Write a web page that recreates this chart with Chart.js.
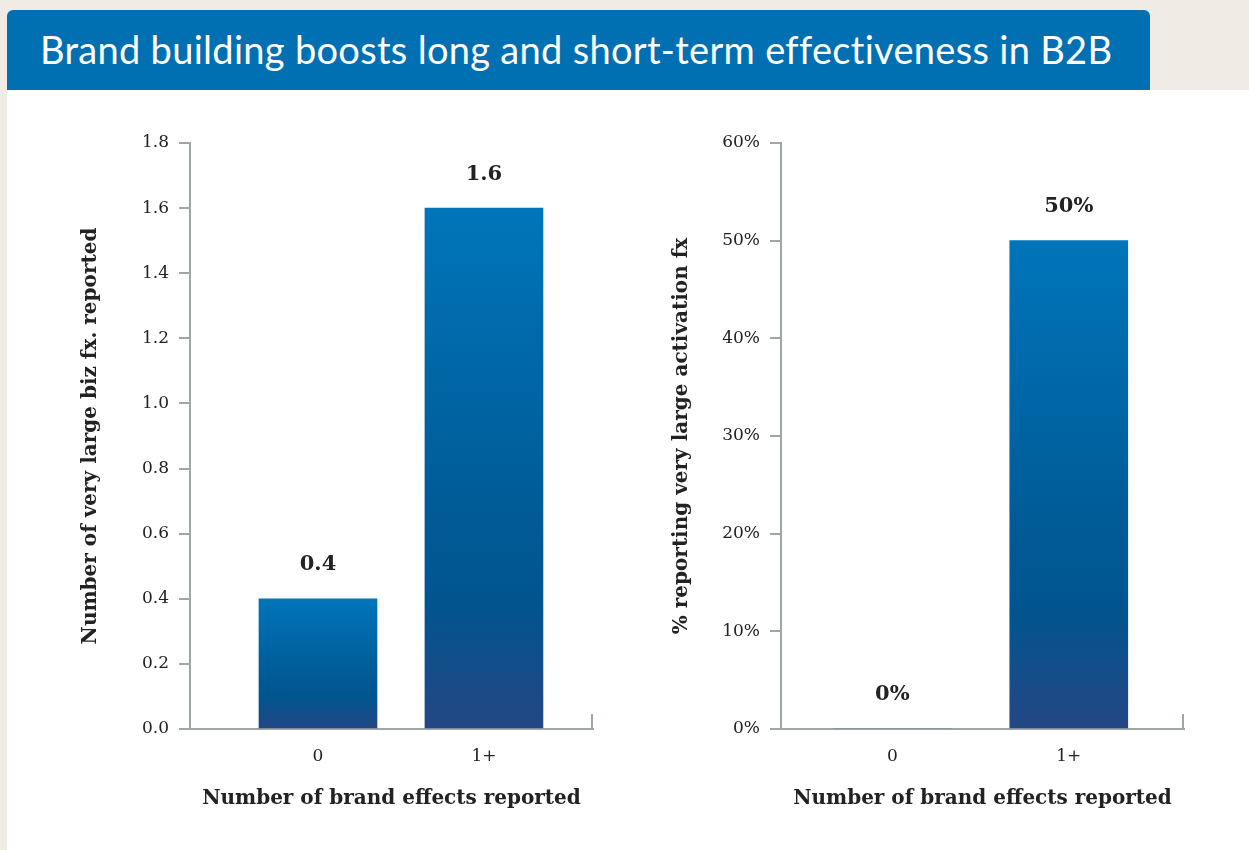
<!DOCTYPE html>
<html>
<head>
<meta charset="utf-8">
<script src="https://cdn.jsdelivr.net/npm/chart.js@4/dist/chart.umd.min.js"></script>
<style>
  html, body { margin: 0; padding: 0; }
  body { width: 1249px; height: 850px; background: #f0ebe5; position: relative; overflow: hidden; }
  #header {
    position: absolute; left: 7px; top: 10px; width: 1143px; height: 80px;
    background: #0070b3; border-radius: 6px 6px 0 0;
    color: #fff; font-family: Lato, "Open Sans", sans-serif; font-size: 38px; letter-spacing: 0.3px;
    line-height: 78px; padding-left: 33px; box-sizing: border-box; white-space: nowrap;
  }
  #panel { position: absolute; left: 7px; top: 90px; width: 1242px; height: 760px; background: #fff; }
  .box { position: absolute; top: 120px; width: 560px; height: 710px; }
  #left { left: 60px; }
  #right { left: 651px; }
</style>
</head>
<body>
<div id="panel"></div>
<div id="header">Brand building boosts long and short-term effectiveness in B2B</div>
<div class="box" id="left"><canvas id="chartLeft"></canvas></div>
<div class="box" id="right"><canvas id="chartRight"></canvas></div>

<script>
// data
var categories = ['0', '1+'];
var bizFx = [0.4, 1.6];
var activationFx = [0, 50];
var xTitle = 'Number of brand effects reported';
var leftYTitle = 'Number of very large biz fx. reported';
var rightYTitle = '% reporting very large activation fx';

var axisGrey = '#9ea6a6';
var textDark = '#222';

function barGradient(context) {
    var chart = context.chart;
    if (!chart.chartArea || context.parsed == null) return '#005b97';
    var y = chart.scales.y;
    var top = y.getPixelForValue(context.parsed.y);
    var bottom = y.getPixelForValue(0);
    if (bottom - top < 1) return '#5a6f8a';
    var g = chart.ctx.createLinearGradient(0, top, 0, bottom);
    g.addColorStop(0, '#0075ba');
    g.addColorStop(0.55, '#005c98');
    g.addColorStop(0.75, '#00558f');
    g.addColorStop(1, '#244684');
    return g;
}

// value labels above the bars + end cap of the x axis
function barLabels(values, fmt) {
    return {
        id: 'barLabels',
        afterDatasetsDraw: function (chart) {
            var ctx = chart.ctx;
            var meta = chart.getDatasetMeta(0);
            ctx.save();
            ctx.font = 'bold 21px "DejaVu Serif"';
            ctx.fillStyle = textDark;
            ctx.textAlign = 'center';
            ctx.textBaseline = 'middle';
            meta.data.forEach(function (bar, i) {
                ctx.fillText(fmt(values[i]), bar.x, bar.y - 34);
            });
            // small upright tick at the right end of the x axis
            var a = chart.chartArea;
            ctx.strokeStyle = axisGrey;
            ctx.lineWidth = 2;
            ctx.beginPath();
            ctx.moveTo(a.right - 1, a.bottom);
            ctx.lineTo(a.right - 1, a.bottom - 15);
            ctx.stroke();
            ctx.restore();
        }
    };
}

function makeChart(id, values, yMax, yStep, fmt, yTitle, xMin, xMax) {
    return new Chart(document.getElementById(id), {
        type: 'bar',
        data: {
            labels: categories,
            datasets: [{
                data: values.map(function (v, i) { return { x: i, y: v }; }),
                backgroundColor: barGradient,
                borderWidth: 0,
                barThickness: 118
            }]
        },
        plugins: [barLabels(values, fmt)],
        options: {
            responsive: true,
            maintainAspectRatio: false,
            animation: false,
            layout: { padding: { top: 23, right: 27, left: 0, bottom: 0 } },
            plugins: {
                legend: { display: false },
                tooltip: { enabled: false }
            },
            scales: {
                x: {
                    type: 'linear',
                    offset: false,
                    min: xMin,
                    max: xMax,
                    afterBuildTicks: function (scale) {
                        scale.ticks = categories.map(function (c, i) { return { value: i }; });
                    },
                    afterFit: function (scale) { scale.height = 101; },
                    grid: { drawOnChartArea: false, drawTicks: false, offset: false },
                    border: { display: true, color: axisGrey, width: 2 },
                    ticks: {
                        padding: 17,
                        color: textDark,
                        font: { family: 'DejaVu Serif', size: 17 },
                        callback: function (v) { return categories[v]; }
                    },
                    title: {
                        display: true,
                        text: xTitle,
                        color: textDark,
                        font: { family: 'DejaVu Serif', size: 20, weight: 'bold' },
                        padding: { top: 0, bottom: 19 }
                    }
                },
                y: {
                    min: 0,
                    max: yMax,
                    afterFit: function (scale) { scale.width = 130; },
                    grid: { drawOnChartArea: false, drawTicks: true, tickLength: 11, color: axisGrey, lineWidth: 2 },
                    border: { display: true, color: axisGrey, width: 2 },
                    ticks: {
                        stepSize: yStep,
                        padding: 10,
                        color: textDark,
                        font: { family: 'DejaVu Serif', size: 17 },
                        callback: function (v) { return fmt(v); }
                    },
                    title: {
                        display: true,
                        text: yTitle,
                        color: textDark,
                        font: { family: 'DejaVu Serif', size: 20, weight: 'bold' },
                        padding: { top: 19, bottom: 0 }
                    }
                }
            }
        }
    });
}

makeChart('chartLeft', bizFx, 1.8, 0.2,
    function (v) { return Number(v).toFixed(1); }, leftYTitle, -0.771, 1.657);

makeChart('chartRight', activationFx, 60, 10,
    function (v) { return Math.round(v) + '%'; }, rightYTitle, -0.631, 1.653);
</script>
</body>
</html>
